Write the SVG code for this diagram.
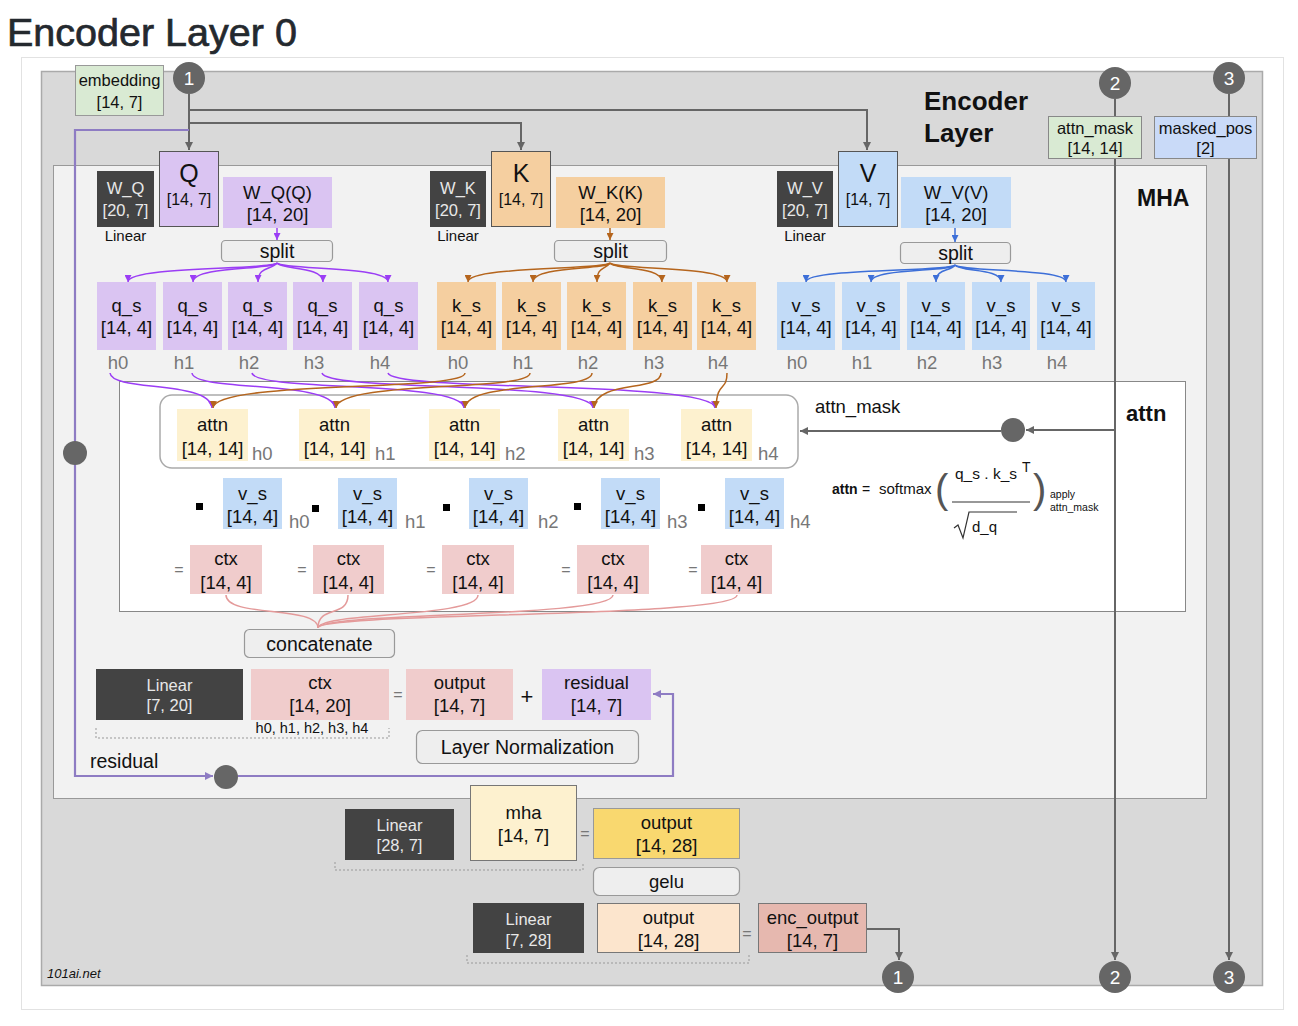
<svg xmlns="http://www.w3.org/2000/svg" width="1298" height="1026" viewBox="0 0 1298 1026">
<defs>
<style>
text{font-family:"Liberation Sans",Arial,sans-serif;fill:#111}
.c{text-anchor:middle}
.t{font-size:18.5px}
.tw{font-size:16.5px;fill:#e8e8e8}
.dk{fill:#434343}
.pu{fill:#dac4f2}
.or{fill:#f5cfa0}
.bl{fill:#c2dbf7}
.ye{fill:#fdf1cf}
.pk{fill:#f0cccc}
.h{font-size:18.5px;fill:#777}
.op{fill:none;stroke:#999;stroke-width:1.2}
.btn{fill:#eeeeee;stroke:#999;stroke-width:1.2}
.cir{fill:#666}
.ct{fill:#fff;font-size:19px;text-anchor:middle}
.lg{fill:none;stroke:#666;stroke-width:2}
.lp{fill:none;stroke:#9b3df5;stroke-width:1.5}
.lb{fill:none;stroke:#b5651d;stroke-width:1.5}
.ll{fill:none;stroke:#3d6fd8;stroke-width:1.5}
.lr{fill:none;stroke:#8e7cc3;stroke-width:2.2}
.lk{fill:none;stroke:#e49a9a;stroke-width:1.5}
.dash{fill:none;stroke:#999;stroke-width:1;stroke-dasharray:2 2}
.eq{font-size:16px;fill:#777;text-anchor:middle}
</style>
<marker id="ag" viewBox="0 0 10 10" refX="10" refY="5" markerWidth="8" markerHeight="8" markerUnits="userSpaceOnUse" orient="auto"><path d="M0,0L10,5L0,10z" fill="#666"/></marker>
<marker id="ap" viewBox="0 0 10 10" refX="10" refY="5" markerWidth="7" markerHeight="7" markerUnits="userSpaceOnUse" orient="auto"><path d="M0,0L10,5L0,10z" fill="#9b3df5"/></marker>
<marker id="ab" viewBox="0 0 10 10" refX="10" refY="5" markerWidth="7" markerHeight="7" markerUnits="userSpaceOnUse" orient="auto"><path d="M0,0L10,5L0,10z" fill="#b5651d"/></marker>
<marker id="al" viewBox="0 0 10 10" refX="10" refY="5" markerWidth="7" markerHeight="7" markerUnits="userSpaceOnUse" orient="auto"><path d="M0,0L10,5L0,10z" fill="#3d6fd8"/></marker>
<marker id="ar" viewBox="0 0 10 10" refX="10" refY="5" markerWidth="8" markerHeight="8" markerUnits="userSpaceOnUse" orient="auto"><path d="M0,0L10,5L0,10z" fill="#8e7cc3"/></marker>
</defs>

<rect width="1298" height="1026" fill="#fff"/>
<text x="7" y="46" font-size="39.5" style="fill:#24292e;stroke:#24292e;stroke-width:0.7">Encoder Layer 0</text>

<g id="frames">
<rect x="21.5" y="57.5" width="1262" height="952" fill="#fff" stroke="#e2e2e2"/>
<rect x="41.5" y="71.5" width="1221" height="914" fill="#d9d9d9" stroke="#aaa" stroke-width="1.5"/>
<rect x="53.5" y="165.5" width="1153" height="633" fill="#f2f2f2" stroke="#999"/>
<rect x="119.5" y="381.5" width="1066" height="230" fill="#fff" stroke="#888"/>
<rect x="160" y="395" width="638" height="73" rx="12" fill="#fff" stroke="#aaa" stroke-width="1.5"/>
<text x="924" y="110" font-size="26" font-weight="bold">Encoder</text>
<text x="924" y="142" font-size="26" font-weight="bold">Layer</text>
<text x="1137" y="206" font-size="23" font-weight="bold">MHA</text>
<text x="1126" y="421" font-size="22" font-weight="bold">attn</text>
<text x="815" y="413" font-size="18.5">attn_mask</text>
<text x="47" y="978" font-size="13" font-style="italic">101ai.net</text>
</g>

<g id="connectors">
<path class="lg" d="M189,94V150" marker-end="url(#ag)"/>
<path class="lg" d="M189,110H867V150" marker-end="url(#ag)"/>
<path class="lg" d="M189,123H521V150" marker-end="url(#ag)"/>
<path class="lr" d="M189,130H75V776H213" marker-end="url(#ar)"/>
<path class="lr" d="M238,776H673V694H653" marker-end="url(#ar)"/>
<path class="lg" d="M1115,99V116"/>
<path class="lg" d="M1115,159V960" marker-end="url(#ag)"/>
<path class="lg" d="M1229,94V116"/>
<path class="lg" d="M1229,159V960" marker-end="url(#ag)"/>
<path class="lg" d="M1115,430H1026" stroke-width="1.5" marker-end="url(#ag)"/>
<path class="lg" d="M1001,431H800" stroke-width="1.5" marker-end="url(#ag)"/>
<path class="lg" d="M867,929H899V960" stroke-width="1.5" marker-end="url(#ag)"/>

<path class="lp" d="M277,228V240" marker-end="url(#ap)"/>
<path class="lb" d="M610,228V240" marker-end="url(#ab)"/>
<path class="ll" d="M955,228V242" marker-end="url(#al)"/>

<path class="lp" d="M277,263C272,270 128,266 128,282" marker-end="url(#ap)"/>
<path class="lp" d="M277,263C272,270 193,266 193,282" marker-end="url(#ap)"/>
<path class="lp" d="M277,263C272,270 258,266 258,282" marker-end="url(#ap)"/>
<path class="lp" d="M277,263C282,270 323,266 323,282" marker-end="url(#ap)"/>
<path class="lp" d="M277,263C282,270 388,266 388,282" marker-end="url(#ap)"/>

<path class="lb" d="M610,263C605,270 468,266 468,282" marker-end="url(#ab)"/>
<path class="lb" d="M610,263C605,270 533,266 533,282" marker-end="url(#ab)"/>
<path class="lb" d="M610,263C605,270 597,266 597,282" marker-end="url(#ab)"/>
<path class="lb" d="M610,263C615,270 662,266 662,282" marker-end="url(#ab)"/>
<path class="lb" d="M610,263C615,270 727,266 727,282" marker-end="url(#ab)"/>

<path class="ll" d="M955,265C950,272 806,268 806,282" marker-end="url(#al)"/>
<path class="ll" d="M955,265C950,272 871,268 871,282" marker-end="url(#al)"/>
<path class="ll" d="M955,265C950,272 936,268 936,282" marker-end="url(#al)"/>
<path class="ll" d="M955,265C960,272 1001,268 1001,282" marker-end="url(#al)"/>
<path class="ll" d="M955,265C960,272 1066,268 1066,282" marker-end="url(#al)"/>

<path class="lp" d="M110,373C112,392 210,380 212,408" marker-end="url(#ap)"/>
<path class="lp" d="M192,373C194,392 333,380 335,408" marker-end="url(#ap)"/>
<path class="lp" d="M252,373C256,392 462,380 464,408" marker-end="url(#ap)"/>
<path class="lp" d="M322,373C326,392 591,380 593,408" marker-end="url(#ap)"/>
<path class="lp" d="M388,373C392,392 713,380 715,408" marker-end="url(#ap)"/>

<path class="lb" d="M465,373C465,392 215,380 213,408" marker-end="url(#ab)"/>
<path class="lb" d="M530,373C530,392 338,380 336,408" marker-end="url(#ab)"/>
<path class="lb" d="M592,373C592,392 467,380 465,408" marker-end="url(#ab)"/>
<path class="lb" d="M661,373C661,392 596,380 594,408" marker-end="url(#ab)"/>
<path class="lb" d="M727,373C727,392 717,380 716,408" marker-end="url(#ab)"/>

<path class="lk" d="M226,595C226,618 318,605 318,628"/>
<path class="lk" d="M348,595C348,618 318,605 318,628"/>
<path class="lk" d="M478,595C478,618 318,612 318,628"/>
<path class="lk" d="M613,595C613,618 318,612 318,628"/>
<path class="lk" d="M737,595C737,618 318,612 318,628"/>

<path class="dash" d="M96,728V738H389V728"/>
<path class="dash" d="M335,862V870H583V862"/>
<path class="dash" d="M467,955V963H749V955"/>
</g>

<g id="inputs">
<g id="embedding"><rect x="75.5" y="65.5" width="88" height="50" fill="#d9ead3" stroke="#999"/>
<text class="c" x="119.5" y="86" font-size="16.5">embedding</text><text class="c" x="119.5" y="108" font-size="16.5">[14, 7]</text></g>
<g id="c1top"><circle class="cir" cx="189" cy="78" r="16"/><text class="ct" x="189" y="85">1</text></g>
<g id="c2top"><circle class="cir" cx="1115" cy="83" r="16"/><text class="ct" x="1115" y="90">2</text></g>
<g id="c3top"><circle class="cir" cx="1229" cy="78" r="16"/><text class="ct" x="1229" y="85">3</text></g>
<g id="attn_mask_in"><rect x="1048.5" y="116.5" width="93" height="42" fill="#d9ead3" stroke="#888"/>
<text class="c" x="1095" y="134" font-size="16.5">attn_mask</text><text class="c" x="1095" y="154" font-size="16.5">[14, 14]</text></g>
<g id="masked_pos_in"><rect x="1154.5" y="116.5" width="102" height="42" fill="#c9daf8" stroke="#888"/>
<text class="c" x="1205.5" y="134" font-size="16.5">masked_pos</text><text class="c" x="1205.5" y="154" font-size="16.5">[2]</text></g>
</g>

<g id="qkv">
<g id="Q"><rect class="pu" x="159.5" y="151.5" width="59" height="75" stroke="#555"/><text class="c" x="189" y="182" font-size="25">Q</text><text class="c" x="189" y="205" font-size="16">[14, 7]</text></g>
<g id="K"><rect class="or" x="491.5" y="151.5" width="59" height="75" stroke="#555"/><text class="c" x="521" y="182" font-size="25">K</text><text class="c" x="521" y="205" font-size="16">[14, 7]</text></g>
<g id="V"><rect class="bl" x="838.5" y="151.5" width="59" height="75" stroke="#555"/><text class="c" x="868" y="182" font-size="25">V</text><text class="c" x="868" y="205" font-size="16">[14, 7]</text></g>
<g id="W_Q"><rect class="dk" x="97" y="171" width="57" height="56"/><text class="c tw" x="125.5" y="194">W_Q</text><text class="c tw" x="125.5" y="216">[20, 7]</text><text class="c" x="125.5" y="241" font-size="15">Linear</text></g>
<g id="W_K"><rect class="dk" x="430" y="171" width="56" height="56"/><text class="c tw" x="458" y="194">W_K</text><text class="c tw" x="458" y="216">[20, 7]</text><text class="c" x="458" y="241" font-size="15">Linear</text></g>
<g id="W_V"><rect class="dk" x="777" y="171" width="56" height="56"/><text class="c tw" x="805" y="194">W_V</text><text class="c tw" x="805" y="216">[20, 7]</text><text class="c" x="805" y="241" font-size="15">Linear</text></g>
<g id="WQQ"><rect class="pu" x="223" y="177" width="109" height="51"/><text class="c t" x="277.5" y="199">W_Q(Q)</text><text class="c t" x="277.5" y="221">[14, 20]</text></g>
<g id="WKK"><rect class="or" x="556" y="177" width="109" height="51"/><text class="c t" x="610.5" y="199">W_K(K)</text><text class="c t" x="610.5" y="221">[14, 20]</text></g>
<g id="WVV"><rect class="bl" x="901" y="177" width="110" height="51"/><text class="c t" x="956" y="199">W_V(V)</text><text class="c t" x="956" y="221">[14, 20]</text></g>
<g id="splitQ"><rect class="btn" x="221.5" y="240.5" width="111" height="21" rx="4"/><text class="c" x="277" y="258" font-size="19.5">split</text></g>
<g id="splitK"><rect class="btn" x="554.5" y="240.5" width="112" height="21" rx="4"/><text class="c" x="610.5" y="258" font-size="19.5">split</text></g>
<g id="splitV"><rect class="btn" x="900.5" y="242.5" width="110" height="21" rx="4"/><text class="c" x="955.5" y="260" font-size="19.5">split</text></g>
</g>

<g id="heads">
<g id="qs"><rect class="pu" x="97" y="282" width="59" height="68"/><rect class="pu" x="163" y="282" width="59" height="68"/><rect class="pu" x="228" y="282" width="59" height="68"/><rect class="pu" x="293" y="282" width="59" height="68"/><rect class="pu" x="359" y="282" width="59" height="68"/>
<text class="c t" x="126.5" y="312">q_s</text><text class="c t" x="192.5" y="312">q_s</text><text class="c t" x="257.5" y="312">q_s</text><text class="c t" x="322.5" y="312">q_s</text><text class="c t" x="388.5" y="312">q_s</text>
<text class="c t" x="126.5" y="334">[14, 4]</text><text class="c t" x="192.5" y="334">[14, 4]</text><text class="c t" x="257.5" y="334">[14, 4]</text><text class="c t" x="322.5" y="334">[14, 4]</text><text class="c t" x="388.5" y="334">[14, 4]</text>
<text class="c h" x="118" y="369">h0</text><text class="c h" x="184" y="369">h1</text><text class="c h" x="249" y="369">h2</text><text class="c h" x="314" y="369">h3</text><text class="c h" x="380" y="369">h4</text></g>
<g id="ks"><rect class="or" x="437" y="282" width="59" height="68"/><rect class="or" x="502" y="282" width="59" height="68"/><rect class="or" x="567" y="282" width="59" height="68"/><rect class="or" x="633" y="282" width="59" height="68"/><rect class="or" x="697" y="282" width="59" height="68"/>
<text class="c t" x="466.5" y="312">k_s</text><text class="c t" x="531.5" y="312">k_s</text><text class="c t" x="596.5" y="312">k_s</text><text class="c t" x="662.5" y="312">k_s</text><text class="c t" x="726.5" y="312">k_s</text>
<text class="c t" x="466.5" y="334">[14, 4]</text><text class="c t" x="531.5" y="334">[14, 4]</text><text class="c t" x="596.5" y="334">[14, 4]</text><text class="c t" x="662.5" y="334">[14, 4]</text><text class="c t" x="726.5" y="334">[14, 4]</text>
<text class="c h" x="458" y="369">h0</text><text class="c h" x="523" y="369">h1</text><text class="c h" x="588" y="369">h2</text><text class="c h" x="654" y="369">h3</text><text class="c h" x="718" y="369">h4</text></g>
<g id="vs"><rect class="bl" x="777" y="282" width="58" height="68"/><rect class="bl" x="842" y="282" width="58" height="68"/><rect class="bl" x="907" y="282" width="58" height="68"/><rect class="bl" x="972" y="282" width="58" height="68"/><rect class="bl" x="1037" y="282" width="58" height="68"/>
<text class="c t" x="806" y="312">v_s</text><text class="c t" x="871" y="312">v_s</text><text class="c t" x="936" y="312">v_s</text><text class="c t" x="1001" y="312">v_s</text><text class="c t" x="1066" y="312">v_s</text>
<text class="c t" x="806" y="334">[14, 4]</text><text class="c t" x="871" y="334">[14, 4]</text><text class="c t" x="936" y="334">[14, 4]</text><text class="c t" x="1001" y="334">[14, 4]</text><text class="c t" x="1066" y="334">[14, 4]</text>
<text class="c h" x="797" y="369">h0</text><text class="c h" x="862" y="369">h1</text><text class="c h" x="927" y="369">h2</text><text class="c h" x="992" y="369">h3</text><text class="c h" x="1057" y="369">h4</text></g>
</g>

<g id="attn">
<rect class="ye" x="177" y="409" width="71" height="52"/><rect class="ye" x="299" y="409" width="71" height="52"/><rect class="ye" x="429" y="409" width="71" height="52"/><rect class="ye" x="558" y="409" width="71" height="52"/><rect class="ye" x="681" y="409" width="71" height="52"/>
<text class="c t" x="212.5" y="431">attn</text><text class="c t" x="334.5" y="431">attn</text><text class="c t" x="464.5" y="431">attn</text><text class="c t" x="593.5" y="431">attn</text><text class="c t" x="716.5" y="431">attn</text>
<text class="c t" x="212.5" y="455">[14, 14]</text><text class="c t" x="334.5" y="455">[14, 14]</text><text class="c t" x="464.5" y="455">[14, 14]</text><text class="c t" x="593.5" y="455">[14, 14]</text><text class="c t" x="716.5" y="455">[14, 14]</text>
<text class="h" x="252" y="460">h0</text><text class="h" x="375" y="460">h1</text><text class="h" x="505" y="460">h2</text><text class="h" x="634" y="460">h3</text><text class="h" x="758" y="460">h4</text>
<g id="mask_dot"><circle class="cir" cx="1013" cy="430" r="12"/></g>
</g>

<g id="vrow">
<rect x="196" y="503" width="7" height="7" fill="#000"/><rect x="312" y="505" width="7" height="7" fill="#000"/><rect x="443" y="504" width="7" height="7" fill="#000"/><rect x="574" y="503" width="7" height="7" fill="#000"/><rect x="698" y="504" width="7" height="7" fill="#000"/>
<rect class="bl" x="223" y="478" width="59" height="51"/><rect class="bl" x="338" y="478" width="59" height="51"/><rect class="bl" x="469" y="478" width="59" height="51"/><rect class="bl" x="601" y="478" width="59" height="51"/><rect class="bl" x="725" y="478" width="59" height="51"/>
<text class="c t" x="252.5" y="500">v_s</text><text class="c t" x="367.5" y="500">v_s</text><text class="c t" x="498.5" y="500">v_s</text><text class="c t" x="630.5" y="500">v_s</text><text class="c t" x="754.5" y="500">v_s</text>
<text class="c t" x="252.5" y="523">[14, 4]</text><text class="c t" x="367.5" y="523">[14, 4]</text><text class="c t" x="498.5" y="523">[14, 4]</text><text class="c t" x="630.5" y="523">[14, 4]</text><text class="c t" x="754.5" y="523">[14, 4]</text>
<text class="h" x="289" y="528">h0</text><text class="h" x="405" y="528">h1</text><text class="h" x="538" y="528">h2</text><text class="h" x="667" y="528">h3</text><text class="h" x="790" y="528">h4</text>
</g>

<g id="ctxrow">
<text class="eq" x="179" y="575">=</text><text class="eq" x="302" y="575">=</text><text class="eq" x="431" y="575">=</text><text class="eq" x="566" y="575">=</text><text class="eq" x="693" y="575">=</text>
<rect class="pk" x="190" y="545" width="72" height="49"/><rect class="pk" x="313" y="545" width="71" height="49"/><rect class="pk" x="442" y="545" width="72" height="49"/><rect class="pk" x="577" y="545" width="72" height="49"/><rect class="pk" x="701" y="545" width="71" height="49"/>
<text class="c t" x="226" y="565">ctx</text><text class="c t" x="348.5" y="565">ctx</text><text class="c t" x="478" y="565">ctx</text><text class="c t" x="613" y="565">ctx</text><text class="c t" x="736.5" y="565">ctx</text>
<text class="c t" x="226" y="589">[14, 4]</text><text class="c t" x="348.5" y="589">[14, 4]</text><text class="c t" x="478" y="589">[14, 4]</text><text class="c t" x="613" y="589">[14, 4]</text><text class="c t" x="736.5" y="589">[14, 4]</text>
</g>

<g id="formula">
<text x="832" y="494" font-size="14" font-weight="bold">attn</text>
<text x="862" y="494" font-size="14">=</text>
<text x="879" y="494" font-size="15">softmax</text>
<text x="935" y="503" font-size="40" style="fill:#555">(</text>
<text x="1033" y="503" font-size="40" style="fill:#555">)</text>
<text x="955" y="479" font-size="15.5">q_s . k_s</text>
<text x="1022" y="472" font-size="14">T</text>
<path d="M952,502H1030" stroke="#333" stroke-width="1.2"/>
<path d="M954,528L958,525L963,538L969,512H1017" fill="none" stroke="#333" stroke-width="1.2"/>
<text x="972" y="532" font-size="15">d_q</text>
<text x="1050" y="498" font-size="10.5">apply</text>
<text x="1050" y="511" font-size="10.5">attn_mask</text>
</g>

<g id="output_block">
<g id="concat"><rect class="btn" x="244.5" y="629.5" width="150" height="28" rx="5"/><text class="c" x="319.5" y="651" font-size="19.5">concatenate</text></g>
<g id="lin720"><rect class="dk" x="96" y="669" width="147" height="51"/><text class="c tw" x="169.5" y="691">Linear</text><text class="c tw" x="169.5" y="711">[7, 20]</text></g>
<g id="ctx20"><rect class="pk" x="251" y="669" width="138" height="51"/><text class="c t" x="320" y="689">ctx</text><text class="c t" x="320" y="712">[14, 20]</text></g>
<text class="c" x="312" y="733" font-size="14.5">h0, h1, h2, h3, h4</text>
<text class="eq" x="398" y="700">=</text>
<g id="out7"><rect class="pk" x="406" y="669" width="107" height="51"/><text class="c t" x="459.5" y="689">output</text><text class="c t" x="459.5" y="712">[14, 7]</text></g>
<text class="c" x="527" y="704" font-size="22">+</text>
<g id="resid"><rect class="pu" x="542" y="669" width="109" height="51"/><text class="c t" x="596.5" y="689">residual</text><text class="c t" x="596.5" y="712">[14, 7]</text></g>
<g id="layernorm"><rect class="btn" x="416.5" y="730.5" width="222" height="33" rx="6"/><text class="c" x="527.5" y="754" font-size="19.5">Layer Normalization</text></g>
<text x="90" y="768" font-size="19.5">residual</text>
<g id="res_dot1"><circle class="cir" cx="75" cy="453" r="12"/></g>
<g id="res_dot2"><circle class="cir" cx="226" cy="777" r="12"/></g>
</g>

<g id="ffn">
<g id="lin287"><rect class="dk" x="345" y="809" width="109" height="51"/><text class="c tw" x="399.5" y="831">Linear</text><text class="c tw" x="399.5" y="851">[28, 7]</text></g>
<g id="mha"><rect class="ye" x="470.5" y="785.5" width="106" height="75" stroke="#777"/><text class="c t" x="523.5" y="819">mha</text><text class="c t" x="523.5" y="842">[14, 7]</text></g>
<text class="eq" x="585" y="839">=</text>
<g id="out28a"><rect x="593.5" y="808.5" width="146" height="50" fill="#f9d86f" stroke="#999"/><text class="c t" x="666.5" y="829">output</text><text class="c t" x="666.5" y="852">[14, 28]</text></g>
<g id="gelu"><rect class="btn" x="593.5" y="867.5" width="146" height="28" rx="6"/><text class="c t" x="666.5" y="888">gelu</text></g>
<g id="lin728"><rect class="dk" x="473" y="903" width="111" height="50"/><text class="c tw" x="528.5" y="925">Linear</text><text class="c tw" x="528.5" y="946">[7, 28]</text></g>
<g id="out28b"><rect x="597.5" y="903.5" width="142" height="49" fill="#fce5cd" stroke="#777"/><text class="c t" x="668.5" y="924">output</text><text class="c t" x="668.5" y="947">[14, 28]</text></g>
<text class="eq" x="747" y="939">=</text>
<g id="enc_output"><rect x="758.5" y="903.5" width="108" height="49" fill="#e6b8af" stroke="#777"/><text class="c t" x="812.5" y="924">enc_output</text><text class="c t" x="812.5" y="947">[14, 7]</text></g>
<g id="c1bot"><circle class="cir" cx="898" cy="977" r="16"/><text class="ct" x="898" y="984">1</text></g>
<g id="c2bot"><circle class="cir" cx="1115" cy="977" r="16"/><text class="ct" x="1115" y="984">2</text></g>
<g id="c3bot"><circle class="cir" cx="1229" cy="977" r="16"/><text class="ct" x="1229" y="984">3</text></g>
</g>
</svg>
